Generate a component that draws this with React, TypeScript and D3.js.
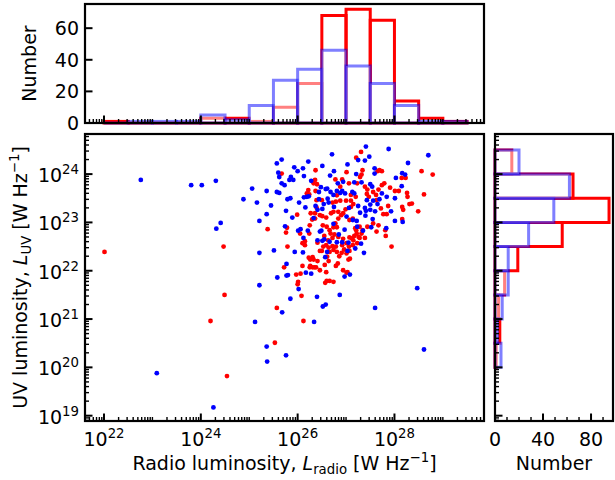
import React from 'react';
import * as d3 from 'd3';

// log10(L_radio), log10(L_UV)
const bluePoints: [number, number][] = [
  [22.76,23.88],[23.80,23.77],[24.02,23.77],[24.31,23.86],[24.32,22.87],[24.41,22.99],[24.88,23.48],[25.06,23.70],[25.16,23.41],[25.36,23.65],
  [25.45,23.35],[25.36,23.17],[25.21,23.03],[25.21,22.37],[25.51,22.42],[25.21,21.70],[25.12,20.94],[25.36,20.43],[25.37,20.12],[23.09,19.88],
  [24.26,19.17],[25.68,21.14],[25.76,20.25],[25.85,21.42],[25.58,21.86],[25.77,21.90],[25.80,21.91],[25.77,22.14],[25.74,22.92],[25.89,23.10],
  [25.76,23.24],[25.94,22.39],[26.02,21.62],[26.11,22.38],[26.17,21.96],[26.28,21.94],[26.40,21.46],[26.34,20.94],[26.52,21.26],[26.58,21.30],
  [26.87,21.50],[26.97,21.88],[27.08,21.92],[27.60,21.23],[28.47,21.64],[28.61,20.37],[27.37,22.37],[27.31,22.56],[27.03,22.41],[27.05,22.58],
  [27.19,22.46],[26.85,22.75],[26.92,22.59],[26.81,22.59],[26.66,22.60],[26.55,22.65],[26.51,22.62],[26.41,22.63],[26.61,22.39],[26.57,22.28],
  [26.49,22.83],[26.46,22.81],[26.01,22.83],[26.06,22.86],[26.21,22.83],[26.12,22.68],[27.35,22.83],[27.23,22.91],[27.83,22.88],[27.52,22.90],
  [27.55,23.07],[27.40,23.14],[27.22,23.03],[27.14,23.05],[26.97,22.85],[26.74,22.97],[26.33,23.09],[26.44,23.48],[26.51,23.28],[26.54,23.38],
  [26.64,23.41],[26.62,23.49],[26.75,23.32],[26.37,23.34],[26.41,23.26],[26.16,23.31],[26.19,23.53],[26.23,23.54],[26.03,23.41],[26.13,23.52],
  [25.79,23.48],[25.85,23.50],[25.62,23.61],[25.57,23.63],[25.67,23.81],[25.73,23.77],[25.62,23.94],[25.60,24.03],[25.57,24.22],[25.67,24.30],
  [25.86,23.94],[25.91,23.88],[25.83,23.88],[25.93,24.14],[26.00,24.06],[26.11,24.12],[26.13,23.96],[26.22,24.26],[26.28,23.86],[26.48,23.73],
  [26.51,24.17],[26.58,23.69],[26.61,23.70],[26.67,23.97],[26.75,24.06],[26.83,23.81],[26.71,24.41],[26.94,23.84],[27.03,24.20],[27.25,24.29],
  [27.21,24.00],[27.32,23.83],[27.17,23.83],[27.39,24.28],[27.41,24.57],[27.48,24.36],[27.59,24.12],[27.59,24.01],[27.50,23.79],[27.54,23.74],
  [27.88,24.52],[28.28,24.23],[28.70,24.39],[28.03,23.92],[28.16,24.02],[28.22,23.99],[28.15,23.75],[28.01,23.50],[28.01,23.03],[28.17,23.01],
  [27.93,23.23],[27.84,23.53],[27.74,23.60],[27.69,23.48],[27.65,23.38],[27.56,23.45],[27.50,23.37],[27.43,23.46],[27.39,23.30],[27.50,23.26],
  [27.60,23.23],[27.41,23.24],[27.29,23.20],[27.25,23.34],[27.17,23.60],[27.13,23.63],[27.06,23.30],[27.01,23.12],[26.98,23.60],[26.88,23.61],
  [26.92,23.65],[26.81,23.65],[26.74,23.57],[26.68,23.63],[26.44,23.63]
];

const redPoints: [number, number][] = [
  [22.01,22.39],[24.47,22.50],[24.49,21.50],[24.20,20.96],[24.54,19.82],[25.38,22.86],[25.57,21.23],[25.53,20.51],[25.67,24.01],[25.78,22.89],
  [25.76,22.79],[25.79,22.50],[25.72,22.07],[25.97,21.92],[26.01,21.77],[26.00,21.72],[26.08,21.48],[26.12,20.96],[25.99,23.16],[26.10,22.10],
  [26.23,22.27],[26.25,22.07],[26.31,22.07],[26.35,22.07],[26.15,22.61],[26.15,22.53],[26.24,22.77],[26.25,22.94],[26.36,23.19],[26.37,23.65],
  [26.36,23.88],[26.37,24.08],[26.40,23.79],[26.24,23.58],[26.41,22.58],[26.46,22.41],[26.41,22.20],[26.56,22.12],[26.61,22.29],[26.64,22.20],
  [26.60,21.79],[26.57,21.75],[26.66,21.79],[26.66,22.39],[26.64,22.48],[26.59,22.53],[26.72,22.51],[26.79,22.50],[26.81,22.39],[26.92,22.53],
  [27.01,22.57],[27.06,22.50],[27.08,22.25],[27.14,22.53],[27.12,22.67],[27.01,21.96],[27.23,22.57],[27.28,22.68],[27.32,22.77],[27.28,22.91],
  [27.44,22.91],[27.56,22.98],[27.67,22.94],[27.82,22.72],[27.94,22.50],[27.34,22.84],[27.21,22.84],[27.19,22.88],[27.07,23.05],[27.14,23.08],
  [26.90,23.15],[26.84,23.08],[26.78,22.98],[26.74,22.90],[26.81,22.90],[26.66,22.84],[26.60,22.91],[26.52,22.94],[26.46,23.15],[26.51,23.13],
  [26.59,23.10],[26.69,23.19],[26.74,23.22],[26.84,23.22],[26.94,23.19],[26.99,23.27],[27.10,23.32],[27.15,23.38],[27.10,23.45],[27.00,23.45],
  [26.88,23.45],[26.79,23.43],[26.72,23.41],[26.81,23.56],[26.88,23.74],[26.78,23.89],[26.92,23.89],[27.01,24.04],[27.06,23.81],[27.10,23.57],
  [27.20,23.53],[27.23,23.81],[27.29,23.94],[27.32,23.99],[27.34,24.08],[27.31,24.46],[27.21,24.34],[27.39,23.74],[27.44,23.68],[27.43,23.59],
  [27.47,23.53],[27.56,23.63],[27.62,23.57],[27.67,23.68],[27.74,23.77],[27.79,23.81],[27.65,24.06],[27.69,24.08],[27.74,24.06],[27.63,23.46],
  [27.72,23.29],[27.77,23.17],[27.84,23.17],[27.87,23.34],[27.91,23.72],[28.01,23.65],[28.09,23.65],[28.15,23.92],[28.23,23.92],[28.26,23.61],
  [28.27,23.53],[28.16,23.32],[28.18,23.26],[28.16,23.07],[28.31,23.38],[28.36,23.39],[28.49,23.23],[28.56,24.06],[28.79,23.99],[28.61,23.58],
  [27.81,22.84],[27.63,22.81],[27.39,22.68],[27.26,22.70],[27.15,22.63],[27.07,22.69],[26.94,22.66],[26.84,22.70],[26.76,22.75],[26.72,22.68],
  [26.68,22.77],[26.63,22.63],[26.55,22.72],[26.53,22.50],[26.50,22.41],[26.74,22.43],[26.86,22.30],[26.91,22.37],[26.96,22.44],[27.01,22.36],
  [27.07,22.41],[27.17,22.72],[27.22,22.77],[26.36,23.08],[26.30,23.06],[26.27,23.19],[26.39,23.31],[26.50,23.46],[26.39,23.46],[26.33,23.81],
  [26.19,23.60],[26.22,23.67],[26.05,22.77],[26.10,22.57],[26.31,22.28],[26.33,22.23],[26.59,21.97],[26.79,22.10],[26.83,22.15],[26.94,22.01],
  [27.03,21.97],[27.05,22.23],[26.74,21.77],[26.46,22.01],[26.26,22.10],[26.38,22.07],[26.26,22.23],[26.06,21.94]
];

// Top histogram (radio), bin edges in log10(L_radio)
const radioBinEdges = [22, 22.5, 23, 23.5, 24, 24.5, 25, 25.5, 26, 26.5, 27, 27.5, 28, 28.5, 29, 29.5];
const radioCountsRed = [1, 0, 0, 0, 3, 3, 1, 10, 25, 68, 72, 65, 14, 3, 1];
const radioCountsBlue = [0, 1, 1, 1, 5, 2, 11, 27, 34, 46, 36, 25, 11, 1, 1];

// Right histogram (UV), bin edges in log10(L_UV)
const uvBinEdges = [20, 20.5, 21, 21.5, 22, 22.5, 23, 23.5, 24, 24.5];
const uvCountsRed = [1, 4, 3, 8, 19, 56, 95, 65, 14];
const uvCountsBlue = [5, 2, 6, 11, 11, 28, 49, 62, 20];

const xMajorExps = [22, 24, 26, 28];
const yMajorExps = [19, 20, 21, 22, 23, 24];
const topCountTicks = [0, 20, 40, 60];
const rightCountTicks = [0, 40, 80];
const rightCountMinor = [10, 20, 30, 50, 60, 70, 90];

const FONT = 'DejaVu Sans';
const FS = 19;
const SUP = 13.3;

const main = { x0: 85, x1: 484, y0: 134, y1: 421 };
const topA = { x0: 85, x1: 484, y0: 4, y1: 123 };
const rightA = { x0: 495, x1: 613, y0: 134, y1: 421 };

const xScale = d3.scaleLog().domain([Math.pow(10, 21.607), Math.pow(10, 29.85)]).range([main.x0, main.x1]);
const yScale = d3.scaleLog().domain([Math.pow(10, 18.89), Math.pow(10, 24.83)]).range([main.y1, main.y0]);
const topY = d3.scaleLinear().domain([0, 75.3]).range([topA.y1, topA.y0]);
const rightX = d3.scaleLinear().domain([0, 98.3]).range([rightA.x0, rightA.x1]);

const P = (e: number) => Math.pow(10, e);

function logMinor(lo: number, hi: number, majors: number[]) {
  const out: number[] = [];
  for (let e = Math.floor(lo); e <= Math.ceil(hi); e++) {
    for (let m = 1; m <= 9; m++) {
      const v = Math.log10(m) + e;
      if (v < lo || v > hi) continue;
      if (m === 1 && majors.includes(e)) continue;
      out.push(v);
    }
  }
  return out;
}

const MAJ = 7.5, MIN = 4, MAJW = 2, MINW = 1.4;

function Frame({ a }: { a: { x0: number; x1: number; y0: number; y1: number } }) {
  return <rect x={a.x0} y={a.y0} width={a.x1 - a.x0} height={a.y1 - a.y0} fill="none" stroke="#000" strokeWidth={2.2} />;
}

function barPath(xa: number, xb: number, ya: number, yb: number) {
  return `M${xa},${ya} L${xb},${ya} L${xb},${yb} L${xa},${yb} Z`;
}

export default function App() {
  const xMinor = logMinor(21.607, 29.85, xMajorExps);
  const yMinor = logMinor(18.89, 24.83, yMajorExps);

  const topBars = (counts: number[]) => counts.map((c, i) =>
    barPath(xScale(P(radioBinEdges[i])), xScale(P(radioBinEdges[i + 1])), topY(0), topY(c)));
  const rightBars = (counts: number[]) => counts.map((c, i) =>
    barPath(rightX(0), rightX(c), yScale(P(uvBinEdges[i])), yScale(P(uvBinEdges[i + 1]))));

  return (
    <svg width={615} height={480} style={{ position: 'fixed', left: 0, top: 0, background: '#fff' }} fontFamily={FONT}>
      <rect x={0} y={0} width={615} height={480} fill="#fff" />
      <defs>
        <clipPath id="mainClip"><rect x={main.x0} y={main.y0} width={main.x1 - main.x0} height={main.y1 - main.y0} /></clipPath>
      </defs>

      {/* Scatter */}
      <g clipPath="url(#mainClip)">
        {redPoints.map((p, i) => <circle key={'r' + i} cx={xScale(P(p[0]))} cy={yScale(P(p[1]))} r={2.4} fill="#ff0000" />)}
        {bluePoints.map((p, i) => <circle key={'b' + i} cx={xScale(P(p[0]))} cy={yScale(P(p[1]))} r={2.4} fill="#0000ff" />)}
      </g>

      {/* Top histogram */}
      <g>
        {topBars(radioCountsRed).map((d, i) => <path key={'tr' + i} d={d} fill="none" stroke="#ff0000" strokeWidth={3} strokeLinejoin="miter" />)}
        {topBars(radioCountsBlue).map((d, i) => <path key={'tb' + i} d={d} fill="#fff" fillOpacity={0.5} stroke="#0000ff" strokeOpacity={0.5} strokeWidth={3} strokeLinejoin="miter" />)}
      </g>

      {/* Right histogram */}
      <g>
        {rightBars(uvCountsRed).map((d, i) => <path key={'rr' + i} d={d} fill="none" stroke="#ff0000" strokeWidth={3} strokeLinejoin="miter" />)}
        {rightBars(uvCountsBlue).map((d, i) => <path key={'rb' + i} d={d} fill="#fff" fillOpacity={0.5} stroke="#0000ff" strokeOpacity={0.5} strokeWidth={3} strokeLinejoin="miter" />)}
      </g>

      {/* Ticks: main x (bottom) and top hist x (bottom) */}
      {[main, topA].map((a, k) => (
        <g key={'xt' + k} stroke="#000">
          {xMajorExps.map(e => <line key={e} x1={xScale(P(e))} x2={xScale(P(e))} y1={a.y1} y2={a.y1 - MAJ} strokeWidth={MAJW} />)}
          {xMinor.map(v => <line key={v} x1={xScale(P(v))} x2={xScale(P(v))} y1={a.y1} y2={a.y1 - MIN} strokeWidth={MINW} />)}
        </g>
      ))}
      {/* Ticks: main y and right hist y (left side) */}
      {[main, rightA].map((a, k) => (
        <g key={'yt' + k} stroke="#000">
          {yMajorExps.map(e => <line key={e} y1={yScale(P(e))} y2={yScale(P(e))} x1={a.x0} x2={a.x0 + MAJ} strokeWidth={MAJW} />)}
          {yMinor.map(v => <line key={v} y1={yScale(P(v))} y2={yScale(P(v))} x1={a.x0} x2={a.x0 + MIN} strokeWidth={MINW} />)}
        </g>
      ))}
      {/* top hist y ticks */}
      <g stroke="#000">
        {topCountTicks.map(t => <line key={t} x1={topA.x0} x2={topA.x0 + MAJ} y1={topY(t)} y2={topY(t)} strokeWidth={MAJW} />)}
      </g>
      {/* right hist x ticks */}
      <g stroke="#000">
        {rightCountTicks.map(t => <line key={t} x1={rightX(t)} x2={rightX(t)} y1={rightA.y1} y2={rightA.y1 - MAJ} strokeWidth={MAJW} />)}
        {rightCountMinor.map(t => <line key={t} x1={rightX(t)} x2={rightX(t)} y1={rightA.y1} y2={rightA.y1 - MIN} strokeWidth={MINW} />)}
      </g>

      <Frame a={main} />
      <Frame a={topA} />
      <Frame a={rightA} />

      {/* Tick labels */}
      <g fontSize={FS} fill="#000">
        {xMajorExps.map(e => (
          <text key={e} x={xScale(P(e))} y={446} textAnchor="middle">10<tspan dy={-8} fontSize={SUP}>{e}</tspan></text>
        ))}
        {yMajorExps.map(e => (
          <text key={e} x={79} y={yScale(P(e)) + 8} textAnchor="end">10<tspan dy={-8} fontSize={SUP}>{e}</tspan></text>
        ))}
        {topCountTicks.map(t => (
          <text key={t} x={79} y={topY(t) + 7} textAnchor="end">{t}</text>
        ))}
        {rightCountTicks.map(t => (
          <text key={t} x={rightX(t)} y={446} textAnchor="middle">{t}</text>
        ))}
      </g>

      {/* Axis labels */}
      <g fontSize={FS} fill="#000">
        <text x={(main.x0 + main.x1) / 2} y={470} textAnchor="middle">
          Radio luminosity, <tspan fontStyle="italic">L</tspan><tspan dy={4} fontSize={SUP}>radio</tspan><tspan dy={-4}> [W Hz</tspan><tspan dy={-8} fontSize={SUP}>−1</tspan><tspan dy={8}>]</tspan>
        </text>
        <text x={(rightA.x0 + rightA.x1) / 2} y={470} textAnchor="middle">Number</text>
        <text transform={`translate(36,${(topA.y0 + topA.y1) / 2}) rotate(-90)`} textAnchor="middle">Number</text>
        <text transform={`translate(27,${(main.y0 + main.y1) / 2}) rotate(-90)`} textAnchor="middle">
          UV luminosity, <tspan fontStyle="italic">L</tspan><tspan dy={4} fontSize={SUP}>UV</tspan><tspan dy={-4}> [W Hz</tspan><tspan dy={-8} fontSize={SUP}>−1</tspan><tspan dy={8}>]</tspan>
        </text>
      </g>
    </svg>
  );
}
